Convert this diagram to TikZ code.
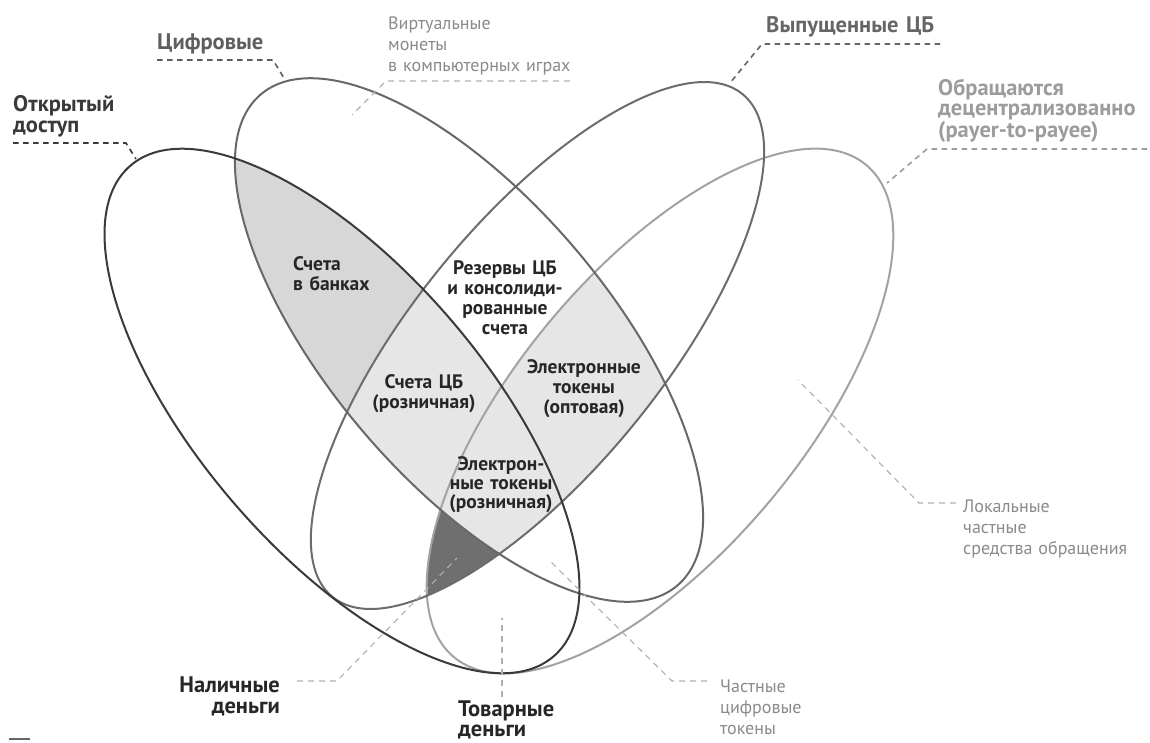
\documentclass[tikz,border=0pt]{standalone}
\usepackage{fontspec}
\setmainfont{PT Sans}
\definecolor{lnO}{HTML}{3A3A3A}
\definecolor{lnD}{HTML}{686868}
\definecolor{lnC}{HTML}{6C6C6C}
\definecolor{lnP}{HTML}{A2A2A2}
\definecolor{fMid}{HTML}{D7D7D7}
\definecolor{fLight}{HTML}{E6E6E6}
\definecolor{fDark}{HTML}{6F6F6F}
\definecolor{txDark}{HTML}{262626}
\definecolor{txNote}{HTML}{8A8A8A}
\definecolor{txDig}{HTML}{5E5E5E}
\definecolor{txCB}{HTML}{666666}
\definecolor{txPP}{HTML}{9C9C9C}
\definecolor{dashNote}{HTML}{B0B0B0}
\newcommand\ellOpen[1]{\path[#1,rotate around={-49.2:(342,411)}] (342,411) ellipse [x radius=324pt, y radius=142pt];}
\newcommand\ellDig[1]{\path[#1,rotate around={-49.7:(469,340)}] (469,340) ellipse [x radius=322pt, y radius=140pt];}
\newcommand\ellCB[1]{\path[#1,rotate around={50.8:(537.5,345.5)}] (537.5,345.5) ellipse [x radius=324.4pt, y radius=124.5pt];}
\newcommand\ellPP[1]{\path[#1,rotate around={50:(660,411)}] (660,411) ellipse [x radius=321pt, y radius=142pt];}
\tikzset{
  outer/.style={inner sep=0pt, text width=280pt, font=\fontsize{22.5}{21.5}\selectfont\bfseries},
  inner/.style={inner sep=0pt, text width=170pt, align=center, anchor=base, text=txDark, font=\fontsize{19.5}{20}\selectfont\bfseries},
  note/.style={inner sep=0pt, text width=260pt, align=left, anchor=base west, text=txNote, font=\fontsize{18}{21}\selectfont},
  darkdash/.style={line width=1.6pt, dash pattern=on 5.5pt off 4.5pt},
  notedash/.style={line width=1.1pt, color=dashNote, dash pattern=on 6pt off 5pt},
  ring/.style={line width=2pt}
}
\begin{document}
\begin{tikzpicture}[x=1pt,y=-1pt]
\useasboundingbox (0,0) rectangle (1150,742);
% fills
\begin{scope}
  \ellOpen{clip}\ellDig{clip}
  \fill[fMid] (0,0) rectangle (1150,742);
  \ellPP{fill=white}
\end{scope}
\begin{scope}
  \ellOpen{clip}\ellCB{clip}\ellPP{clip}
  \fill[fDark] (0,0) rectangle (1150,742);
\end{scope}
\begin{scope}
  \ellDig{clip}\ellCB{clip}
  \ellOpen{fill=fLight}\ellPP{fill=fLight}
\end{scope}
% outlines
\ellPP{draw=lnP,ring}
\ellCB{draw=lnC,ring}
\ellDig{draw=lnD,ring}
\ellOpen{draw=lnO,ring}

% outer labels
\node[outer, align=left, anchor=base west, text=lnO] (open) at (13,111) {Открытый\\доступ};
\node[outer, align=left, anchor=base west, text=txDig] (dig) at (157,49) {Цифровые};
\node[outer, align=left, anchor=base west, text=txCB] (cb) at (766,32) {Выпущенные ЦБ};
\node[outer, align=left, anchor=base west, text=txPP, font=\fontsize{22.5}{20.5}\selectfont\bfseries] (pp) at (938,95) {Обращаются\\децентрализованно\\(payer-to-payee)};
\node[outer, align=right, anchor=base east, text=txDark] (cash) at (280,692) {Наличные\\деньги};
\node[outer, align=left, anchor=base west, text=txDark, font=\fontsize{22.5}{20.5}\selectfont\bfseries] (comm) at (458,716) {Товарные\\деньги};

% notes
\node[note] (virt) at (388,29) {Виртуальные\\монеты\\в компьютерных играх};
\node[note] (loc) at (963,512) {Локальные\\частные\\средства обращения};
\node[note] (priv) at (720,692) {Частные\\цифровые\\токены};

% inner labels
\node[inner, align=left, anchor=base west] (banks) at (293,270) {Счета\\в банках};
\node[inner] (res) at (505,274) {Резервы ЦБ\\и консолиди-\\рованные\\счета};
\node[inner] (cbr) at (424,388) {Счета ЦБ\\(розничная)};
\node[inner] (ewh) at (584,373) {Электронные\\токены\\(оптовая)};
\node[inner, font=\fontsize{19.5}{19}\selectfont\bfseries] (ert) at (501,470) {Электрон-\\ные токены\\(розничная)};

% connector points
\coordinate (openA) at (13,143);  \coordinate (openB) at (126,143); \coordinate (openC) at (136,159);
\coordinate (digA) at (157,60);   \coordinate (digB) at (273,60);   \coordinate (digC) at (284,78);
\coordinate (cbA) at (940,44);    \coordinate (cbB) at (762,44);    \coordinate (cbC) at (730,83);
\coordinate (ppA) at (1147,149);  \coordinate (ppB) at (927,149);   \coordinate (ppC) at (887,183);
\coordinate (virtA) at (570,81);  \coordinate (virtB) at (386,81);  \coordinate (virtC) at (352,115);
\coordinate (locA) at (956,503);  \coordinate (locB) at (919,503);  \coordinate (locC) at (798,380);
\coordinate (privA) at (707,681); \coordinate (privB) at (672,681); \coordinate (privC) at (549,560);
\coordinate (cashA) at (297,681); \coordinate (cashB) at (337,681); \coordinate (cashC) at (457,558);
\coordinate (commA) at (502,697); \coordinate (commC) at (502,618);
\coordinate (markA) at (9,739);   \coordinate (markB) at (30,739);

\draw[darkdash, lnO] (openA) -- (openB) -- (openC);
\draw[darkdash, txDig] (digA) -- (digB) -- (digC);
\draw[darkdash, txCB] (cbA) -- (cbB) -- (cbC);
\draw[darkdash, txPP] (ppA) -- (ppB) -- (ppC);
\draw[notedash] (virtA) -- (virtB) -- (virtC);
\draw[notedash] (locA) -- (locB) -- (locC);
\draw[notedash] (privA) -- (privB) -- (privC);
\draw[notedash] (cashA) -- (cashB) -- (cashC);
\draw[notedash] (commA) -- (commC);
\draw[line width=1.5pt, color=txCB] (markA) -- (markB);
\end{tikzpicture}
\end{document}
